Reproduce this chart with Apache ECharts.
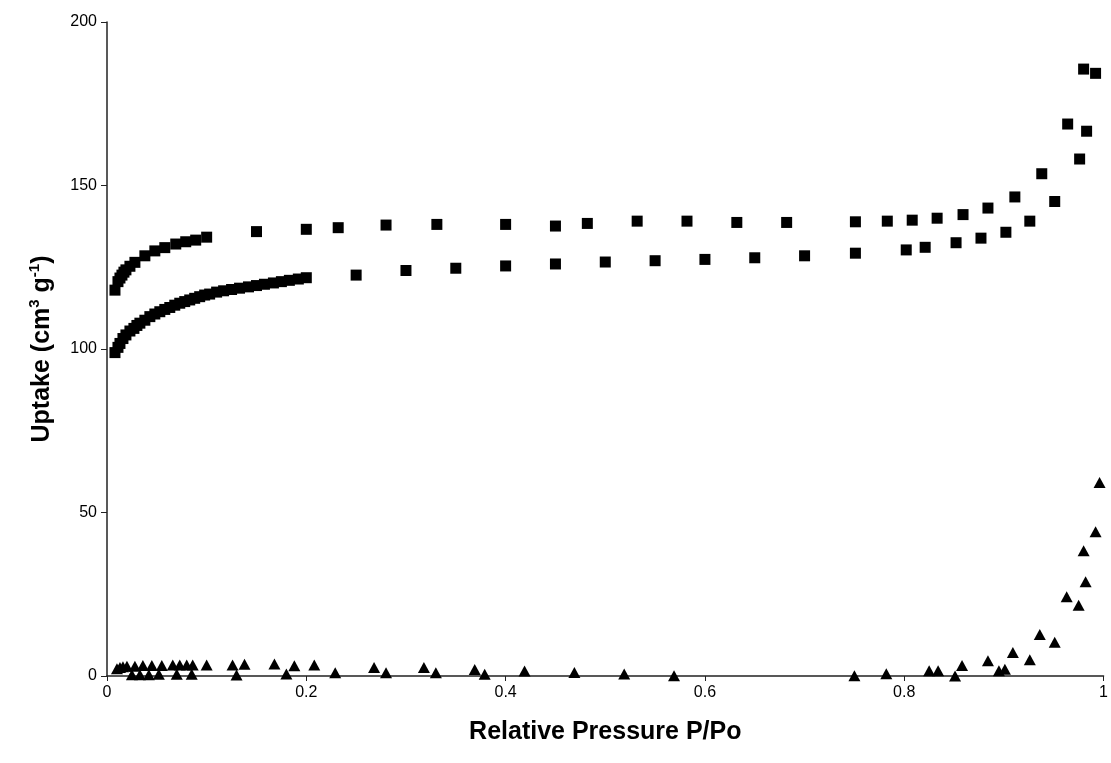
<!DOCTYPE html>
<html>
<head>
<meta charset="utf-8">
<script src="https://cdn.jsdelivr.net/npm/echarts@6/dist/echarts.min.js"></script>
<style>
  html, body { margin: 0; padding: 0; background: #fff; }
  #chart { width: 1111px; height: 763px; }
</style>
</head>
<body>
<div id="chart"></div>
<script>
  // adsorption branch (lower squares)
  const adsX = [0.008, 0.011, 0.013, 0.016, 0.019, 0.023, 0.027, 0.030, 0.033, 0.038, 0.043, 0.048, 0.053, 0.058,
    0.063, 0.068, 0.073, 0.078, 0.083, 0.088, 0.093, 0.098, 0.103, 0.110, 0.117, 0.125, 0.133, 0.142, 0.150,
    0.158, 0.167, 0.175, 0.183, 0.192, 0.200, 0.25, 0.30, 0.35, 0.40, 0.45, 0.50, 0.55, 0.60, 0.65, 0.70,
    0.751, 0.802, 0.821, 0.852, 0.877, 0.902, 0.926, 0.951, 0.976, 0.983]
  const adsY = [98.9, 100.5, 101.7, 103.2, 104.3, 105.5, 106.3, 107.2, 107.9, 108.8, 109.9, 110.7, 111.4, 112.1,
    112.7, 113.4, 114.0, 114.5, 115.0, 115.5, 116.0, 116.5, 116.8, 117.4, 117.8, 118.2, 118.6, 119.0, 119.4,
    119.8, 120.2, 120.6, 121.0, 121.4, 121.8, 122.6, 124.0, 124.7, 125.4, 126.0, 126.6, 127.0, 127.4, 127.9, 128.5,
    129.3, 130.3, 131.1, 132.5, 133.9, 135.7, 139.1, 145.1, 158.1, 166.6]

  // desorption branch (upper squares)
  const desX = [0.992, 0.980, 0.964, 0.938, 0.911, 0.884, 0.859, 0.833, 0.808, 0.783, 0.751, 0.682, 0.632, 0.582,
    0.532, 0.482, 0.450, 0.400, 0.331, 0.280, 0.232, 0.200, 0.150, 0.100, 0.089, 0.079, 0.069, 0.058, 0.048,
    0.038, 0.028, 0.023, 0.019, 0.017, 0.015, 0.013, 0.011, 0.008]
  const desY = [184.3, 185.6, 168.8, 153.6, 146.5, 143.1, 141.1, 140.0, 139.4, 139.1, 138.9, 138.7, 138.7, 139.1,
    139.1, 138.4, 137.6, 138.1, 138.1, 137.9, 137.1, 136.6, 135.9, 134.2, 133.3, 132.8, 132.1, 131.0, 130.0,
    128.5, 126.5, 125.3, 124.2, 123.5, 122.6, 121.7, 120.6, 118.0]

  // triangles
  const triX = [0.010, 0.013, 0.016, 0.020, 0.025, 0.028, 0.033, 0.036, 0.042, 0.045, 0.052, 0.055, 0.066, 0.070,
    0.073, 0.080, 0.085, 0.086, 0.100, 0.126, 0.130, 0.138, 0.168, 0.180, 0.188, 0.208, 0.229, 0.268, 0.280,
    0.318, 0.330, 0.369, 0.379, 0.419, 0.469, 0.519, 0.569, 0.750, 0.782, 0.825, 0.834, 0.851, 0.858, 0.884,
    0.895, 0.901, 0.909, 0.926, 0.936, 0.951, 0.963, 0.975, 0.980, 0.982, 0.992, 0.996]
  const triY = [2.2, 2.6, 2.8, 3.0, 0.4, 3.0, 0.4, 3.2, 0.4, 3.2, 0.5, 3.2, 3.4, 0.5,
    3.4, 3.4, 0.5, 3.4, 3.4, 3.4, 0.3, 3.6, 3.7, 0.6, 3.1, 3.4, 1.0, 2.6, 1.0,
    2.6, 1.0, 2.0, 0.5, 1.5, 1.1, 0.6, 0.1, 0.1, 0.7, 1.6, 1.6, 0.0, 3.2, 4.7,
    1.6, 2.1, 7.2, 5.0, 12.7, 10.3, 24.2, 21.6, 38.3, 28.8, 44.1, 59.2]

  const xTicks = [0, 0.2, 0.4, 0.6, 0.8, 1]

  const zip = (xs, ys) => xs.map((x, i) => [x, ys[i]])
  const font = 'Liberation Sans, Arial, sans-serif'
  const markStyle = { color: '#000', opacity: 1 }

  const chart = echarts.init(document.getElementById('chart'))
  chart.setOption({
    animation: false,
    backgroundColor: '#fff',
    grid: { left: 107, right: 5, top: 22, bottom: 87 },
    xAxis: {
      type: 'value',
      min: 0,
      max: 1,
      interval: 0.2,
      name: 'Relative Pressure P/Po',
      nameLocation: 'middle',
      nameGap: 44,
      nameTextStyle: { fontFamily: font, fontSize: 25, fontWeight: 'bold', color: '#000' },
      axisLine: { lineStyle: { color: '#222', width: 1.5 } },
      axisTick: { show: true, length: 5, lineStyle: { color: '#222' } },
      splitLine: { show: false },
      axisLabel: {
        fontFamily: font, fontSize: 16, color: '#000', margin: 9,
        formatter: (v) => xTicks.includes(v) ? String(v) : ''
      }
    },
    yAxis: {
      type: 'value',
      min: 0,
      max: 200,
      interval: 50,
      name: 'Uptake (cm{sup|3} g{sup|-1})',
      nameLocation: 'middle',
      nameGap: 50,
      nameTextStyle: {
        fontFamily: font, fontSize: 25, fontWeight: 'bold', color: '#000',
        rich: {
          sup: { fontFamily: font, fontSize: 15, fontWeight: 'bold', color: '#000', verticalAlign: 'top', lineHeight: 30, padding: [0, 0, 12, 0] }
        }
      },
      axisLine: { show: true, lineStyle: { color: '#222', width: 1.5 } },
      axisTick: { show: true, length: 6, lineStyle: { color: '#222' } },
      splitLine: { show: false },
      axisLabel: { fontFamily: font, fontSize: 16, color: '#000', margin: 10 }
    },
    series: [
      {
        name: 'adsorption',
        type: 'scatter',
        symbol: 'rect',
        symbolSize: 11,
        clip: false,
        itemStyle: markStyle,
        data: zip(adsX, adsY)
      },
      {
        name: 'desorption',
        type: 'scatter',
        symbol: 'rect',
        symbolSize: 11,
        clip: false,
        itemStyle: markStyle,
        data: zip(desX, desY)
      },
      {
        name: 'triangles',
        type: 'scatter',
        symbol: 'triangle',
        symbolSize: [12, 11],
        clip: false,
        itemStyle: markStyle,
        data: zip(triX, triY)
      }
    ]
  })
</script>
</body>
</html>
